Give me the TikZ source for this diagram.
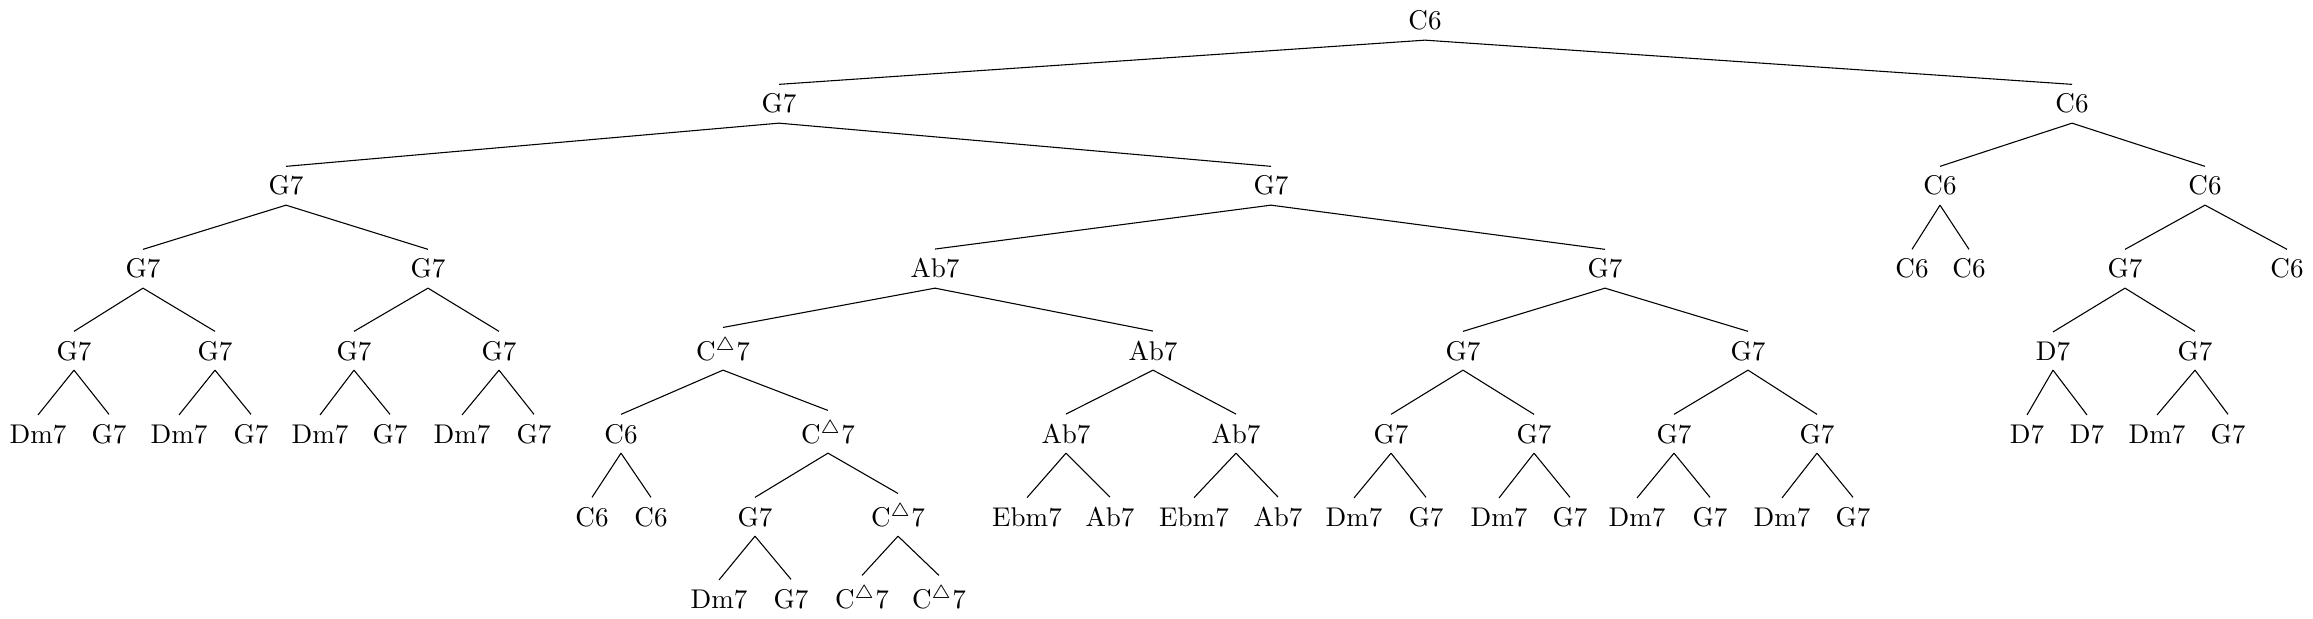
\documentclass[tikz,border=0pt]{standalone}
\usepackage{amsmath,amssymb}
\newcommand{\Cmaj}{C$^\triangle$7}
\begin{document}
\begin{tikzpicture}[x=0.012987cm, y=-0.012987cm, every node/.style={anchor=base}]
\useasboundingbox (0,0) rectangle (2313,619);
% level 0--1
\node (r)    at (1425,30)  {C6};
\node (r1)   at (779,113)  {G7};
\node (r2)   at (2072,113) {C6};
% level 2
\node (r11)  at (286,195)  {G7};
\node (r12)  at (1271,195) {G7};
\node (r21)  at (1940,195) {C6};
\node (r22)  at (2205,195) {C6};
% level 3
\node (r111) at (143,278)  {G7};
\node (r112) at (428,278)  {G7};
\node (r121) at (935,278)  {Ab7};
\node (r122) at (1605,278) {G7};
\node (r211) at (1912,278) {C6};
\node (r212) at (1969,278) {C6};
\node (r221) at (2125,278) {G7};
\node (r222) at (2287,278) {C6};
% level 4
\node (r1111) at (74,360)   {G7};
\node (r1112) at (215,360)  {G7};
\node (r1121) at (354,360)  {G7};
\node (r1122) at (499,360)  {G7};
\node (r1211) at (723,360)  {\Cmaj};
\node (r1212) at (1153,360) {Ab7};
\node (r1221) at (1463,360) {G7};
\node (r1222) at (1748,360) {G7};
\node (r2211) at (2053,360) {D7};
\node (r2212) at (2195,360) {G7};
% level 5
\node (r11111) at (38,443)   {Dm7};
\node (r11112) at (109,443)  {G7};
\node (r11121) at (179,443)  {Dm7};
\node (r11122) at (251,443)  {G7};
\node (r11211) at (320,443)  {Dm7};
\node (r11212) at (390,443)  {G7};
\node (r11221) at (462,443)  {Dm7};
\node (r11222) at (534,443)  {G7};
\node (r12111) at (621,443)  {C6};
\node (r12112) at (828,443)  {\Cmaj};
\node (r12121) at (1066,443) {Ab7};
\node (r12122) at (1236,443) {Ab7};
\node (r12211) at (1391,443) {G7};
\node (r12212) at (1534,443) {G7};
\node (r12221) at (1674,443) {G7};
\node (r12222) at (1817,443) {G7};
\node (r22111) at (2027,443) {D7};
\node (r22112) at (2087,443) {D7};
\node (r22121) at (2157,443) {Dm7};
\node (r22122) at (2228,443) {G7};
% level 6
\node (r121111) at (592,526)  {C6};
\node (r121112) at (651,526)  {C6};
\node (r121121) at (755,526)  {G7};
\node (r121122) at (898,526)  {\Cmaj};
\node (r121211) at (1027,526) {Ebm7};
\node (r121212) at (1110,526) {Ab7};
\node (r121221) at (1194,526) {Ebm7};
\node (r121222) at (1278,526) {Ab7};
\node (r122111) at (1354,526) {Dm7};
\node (r122112) at (1426,526) {G7};
\node (r122121) at (1499,526) {Dm7};
\node (r122122) at (1570,526) {G7};
\node (r122211) at (1637,526) {Dm7};
\node (r122212) at (1710,526) {G7};
\node (r122221) at (1782,526) {Dm7};
\node (r122222) at (1853,526) {G7};
% level 7
\node (r1211211) at (719,608) {Dm7};
\node (r1211212) at (791,608) {G7};
\node (r1211221) at (862,608) {\Cmaj};
\node (r1211222) at (939,608) {\Cmaj};

\foreach \p/\c in {r/r1, r/r2, r1/r11, r1/r12, r2/r21, r2/r22,
  r11/r111, r11/r112, r12/r121, r12/r122, r21/r211, r21/r212, r22/r221, r22/r222,
  r111/r1111, r111/r1112, r112/r1121, r112/r1122, r121/r1211, r121/r1212,
  r122/r1221, r122/r1222, r221/r2211, r221/r2212,
  r1111/r11111, r1111/r11112, r1112/r11121, r1112/r11122,
  r1121/r11211, r1121/r11212, r1122/r11221, r1122/r11222,
  r1211/r12111, r1211/r12112, r1212/r12121, r1212/r12122,
  r1221/r12211, r1221/r12212, r1222/r12221, r1222/r12222,
  r2211/r22111, r2211/r22112, r2212/r22121, r2212/r22122,
  r12111/r121111, r12111/r121112, r12112/r121121, r12112/r121122,
  r12121/r121211, r12121/r121212, r12122/r121221, r12122/r121222,
  r12211/r122111, r12211/r122112, r12212/r122121, r12212/r122122,
  r12221/r122211, r12221/r122212, r12222/r122221, r12222/r122222,
  r121121/r1211211, r121121/r1211212, r121122/r1211221, r121122/r1211222}
  \draw (\p.south) -- (\c.north);
\end{tikzpicture}
\end{document}
